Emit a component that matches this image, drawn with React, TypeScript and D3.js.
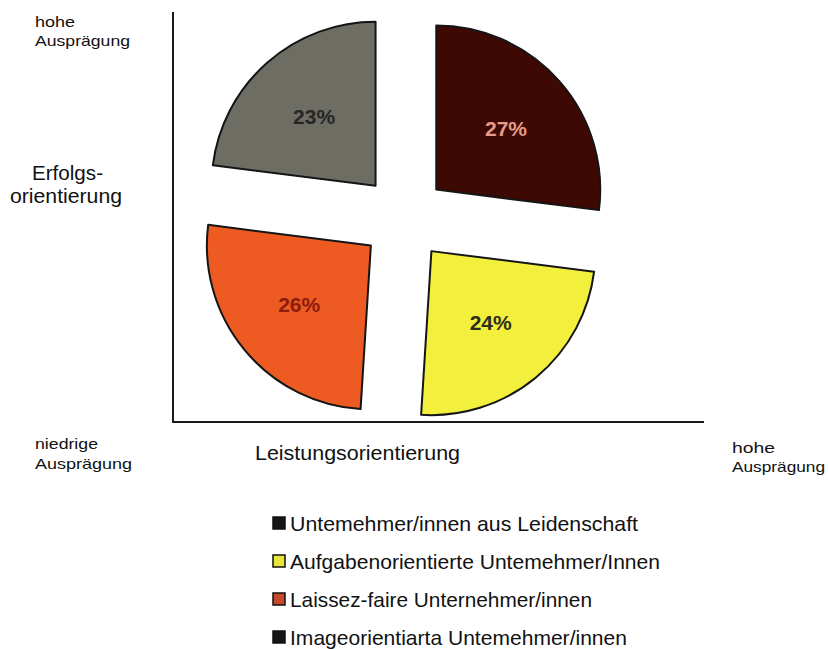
import React, { useEffect, useRef } from "react";
import * as d3 from "d3";

const width = 828;
const height = 649;

const categories = [
    "Untemehmer/innen aus Leidenschaft",
    "Aufgabenorientierte Untemehmer/Innen",
    "Laissez-faire Unternehmer/innen",
    "Imageorientiarta Untemehmer/innen"
];
const shares = [27, 24, 26, 23];
const sliceColors = ["#3e0902", "#f3ef3d", "#ed5b23", "#6e6d64"];
const labelColors = ["#e99a88", "#2e2e1a", "#8c1c0c", "#262626"];
const swatchColors = ["#161616", "#e9e53a", "#c8482c", "#161616"];

// axis annotations: [text, x, baseline, width, font size]
const axisTexts: [string, number, number, number, number][] = [
    ["hohe", 35, 27, 40, 15],
    ["Ausprägung", 35, 46, 95, 15],
    ["Erfolgs-", 32, 180, 71, 20],
    ["orientierung", 10, 203, 112, 20],
    ["niedrige", 35, 449, 63, 15],
    ["Ausprägung", 35, 469, 97, 15],
    ["Leistungsorientierung", 255, 460, 205, 20],
    ["hohe", 732, 453, 43, 15],
    ["Ausprägung", 732, 472, 93, 15]
];
const legendWidths = [348, 370, 302, 337];

const cx = 404;
const cy = 218;
const radius = 164;
const explode = 43;

const App = () => {
    const ref = useRef<SVGSVGElement>(null);

    useEffect(() => {
        const svg = d3.select(ref.current);
        svg.selectAll("*").remove();

        const pie = d3.pie<number>().sort(null).value(d => d);
        const arcs = pie(shares);
        const arc = d3.arc<d3.PieArcDatum<number>>().innerRadius(0).outerRadius(radius);

        const offset = (a: d3.PieArcDatum<number>, r: number) => {
            const mid = (a.startAngle + a.endAngle) / 2;
            return [Math.sin(mid) * r, -Math.cos(mid) * r];
        };

        // axes
        svg.append("line")
            .attr("x1", 173).attr("x2", 173)
            .attr("y1", 12).attr("y2", 423)
            .attr("stroke", "#1a1a1a").attr("stroke-width", 2);
        svg.append("line")
            .attr("x1", 172).attr("x2", 704)
            .attr("y1", 422).attr("y2", 422)
            .attr("stroke", "#1a1a1a").attr("stroke-width", 2);

        const g = svg.append("g").attr("transform", `translate(${cx},${cy})`);

        const slice = g.selectAll("g.slice")
            .data(arcs)
            .join("g")
            .attr("class", "slice")
            .attr("transform", d => {
                const [dx, dy] = offset(d, explode);
                return `translate(${dx},${dy})`;
            });

        slice.append("path")
            .attr("d", arc)
            .attr("fill", (_, i) => sliceColors[i])
            .attr("stroke", "#151515")
            .attr("stroke-width", 2)
            .attr("stroke-linejoin", "round");

        slice.append("text")
            .attr("transform", d => {
                const [x, y] = offset(d, 93);
                return `translate(${x},${y})`;
            })
            .attr("text-anchor", "middle")
            .attr("dy", "0.36em")
            .attr("font-size", 21)
            .attr("font-weight", "bold")
            .attr("fill", (_, i) => labelColors[i])
            .text(d => `${d.data}%`);

        svg.append("g")
            .selectAll("text")
            .data(axisTexts)
            .join("text")
            .attr("x", d => d[1])
            .attr("y", d => d[2])
            .attr("font-size", d => d[4])
            .attr("textLength", d => d[3])
            .attr("lengthAdjust", "spacingAndGlyphs")
            .attr("fill", "#111")
            .text(d => d[0]);

        const legend = svg.append("g")
            .selectAll("g")
            .data(categories)
            .join("g")
            .attr("transform", (_, i) => `translate(273,${531 + i * 38})`);

        legend.append("rect")
            .attr("x", 0).attr("y", -14)
            .attr("width", 12).attr("height", 12)
            .attr("fill", (_, i) => swatchColors[i])
            .attr("stroke", "#111")
            .attr("stroke-width", 1.5);

        legend.append("text")
            .attr("x", 17)
            .attr("font-size", 21)
            .attr("textLength", (_, i) => legendWidths[i])
            .attr("lengthAdjust", "spacingAndGlyphs")
            .attr("fill", "#111")
            .text(d => d);
    }, []);

    return (
        <svg ref={ref} width={width} height={height}
            style={{ position: "absolute", left: 0, top: 0, background: "#fff", fontFamily: "'Liberation Sans', Arial, sans-serif" }}>
        </svg>
    );
};

export default App;
